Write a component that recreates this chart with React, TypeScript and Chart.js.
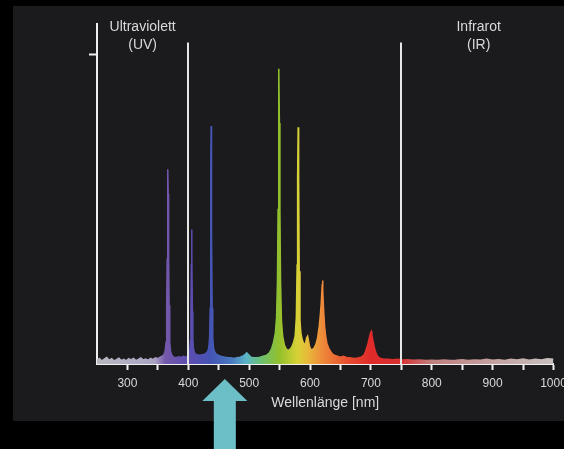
import React, { useEffect, useRef } from "react";
import { Chart, registerables } from "chart.js";

Chart.register(...registerables);

// ---------- data ----------
const wavelengths = [
  250, 254, 258, 262, 266, 270, 274, 278, 282, 286, 290, 294, 298, 302, 306, 310, 314, 318, 322, 326,
  330, 334, 338, 342, 346, 350, 354, 357, 360, 362, 363.5, 364.5, 365.3, 366, 366.5, 367, 367.7, 368.5, 369.5, 371,
  373, 376, 380, 384, 388, 392, 396, 399, 401, 402.5, 403.5, 404.3, 405, 405.5, 406, 406.7, 407.5, 408.5, 410, 412,
  415, 419, 423, 427, 431, 433.5, 435, 436, 436.7, 437.1, 437.5, 437.9, 438.4, 439.2, 440.2, 441.5, 443.5, 446, 450, 455,
  460, 465, 470, 475, 480, 485, 489, 493, 496, 499, 503, 508, 513, 518, 523, 528, 533, 537, 540, 543,
  545, 546.5, 547.5, 548.3, 549, 549.7, 550.5, 551.5, 553, 555, 558, 561, 564, 567, 570, 573, 575.5, 577.5, 578.8, 579.6,
  580.5, 581.3, 582.2, 583.5, 585, 587, 589, 591, 593, 594.5, 596, 597.5, 599, 601, 604, 607, 610, 612.5, 615, 617,
  618.5, 619.7, 620.5, 621.3, 622.5, 624, 626, 628, 631, 634, 637, 641, 645, 650, 655, 660, 665, 670, 675, 680,
  685, 689, 692, 695, 697.5, 699.5, 700.5, 701.5, 703.5, 706, 709, 712, 716, 720, 728, 736, 744, 752, 760, 770,
  780, 790, 800, 810, 820, 830, 840, 850, 860, 870, 880, 890, 900, 910, 920, 930, 940, 950, 960, 970,
  980, 990, 1000,
];
const intensities = [
  0.012, 0.018, 0.010, 0.016, 0.021, 0.012, 0.017, 0.010, 0.014, 0.019, 0.011, 0.015, 0.010, 0.017, 0.013, 0.018, 0.011, 0.015, 0.020, 0.013,
  0.016, 0.012, 0.018, 0.014, 0.020, 0.017, 0.022, 0.025, 0.03, 0.042, 0.07, 0.19, 0.34, 0.55, 0.63, 0.55, 0.34, 0.19, 0.07, 0.04,
  0.028, 0.022, 0.020, 0.023, 0.021, 0.025, 0.022, 0.026, 0.032, 0.045, 0.075, 0.16, 0.32, 0.435, 0.34, 0.17, 0.08, 0.05, 0.037, 0.032,
  0.03, 0.028, 0.03, 0.032, 0.038, 0.05, 0.085, 0.18, 0.42, 0.64, 0.77, 0.64, 0.42, 0.18, 0.085, 0.05, 0.038, 0.032, 0.028, 0.024,
  0.022, 0.02, 0.02, 0.018, 0.02, 0.022, 0.025, 0.03, 0.036, 0.03, 0.022, 0.02, 0.02, 0.022, 0.025, 0.028, 0.035, 0.05, 0.07, 0.1,
  0.15, 0.27, 0.5, 0.78, 0.955, 0.78, 0.5, 0.27, 0.14, 0.09, 0.06, 0.048, 0.044, 0.047, 0.055, 0.07, 0.09, 0.15, 0.32, 0.6,
  0.766, 0.6, 0.3, 0.14, 0.1, 0.08, 0.068, 0.062, 0.07, 0.085, 0.09, 0.075, 0.058, 0.048, 0.047, 0.052, 0.065, 0.085, 0.12, 0.16,
  0.2, 0.245, 0.27, 0.235, 0.17, 0.12, 0.085, 0.065, 0.05, 0.04, 0.032, 0.028, 0.025, 0.022, 0.025, 0.021, 0.02, 0.019, 0.018, 0.02,
  0.023, 0.03, 0.045, 0.065, 0.085, 0.1, 0.105, 0.095, 0.075, 0.05, 0.032, 0.022, 0.018, 0.016, 0.015, 0.014, 0.015, 0.013, 0.014, 0.012,
  0.013, 0.011, 0.012, 0.011, 0.013, 0.011, 0.012, 0.014, 0.011, 0.013, 0.012, 0.015, 0.012, 0.014, 0.011, 0.015, 0.013, 0.016, 0.012, 0.015,
  0.013, 0.017, 0.015,
];
const X_MIN = 250;
const X_MAX = 1000;
const X_STEP = 50;
const X_LABEL_STEP = 100;
const Y_MAX = 1.1;
const Y_TICKS = [1];
const xTitle = "Wellenlänge [nm]";
const regionBounds = [400, 750];
const regionCenters = [325, 877];
const regionLabels = [
  ["Ultraviolett", "(UV)"],
  ["Infrarot", "(IR)"],
];
const boundTop = 1.04;
const labelRows = [1.09, 1.03];
const arrowAt = 460;

// ---------- style ----------
const FONT = '"Liberation Sans", Arial, sans-serif';
const PANEL = "#1b1a1d";
const AXIS = "#efefef";
const TEXT = "#d9d9d9";
const ARROW = "#6cbfc6";
const spectrumStops: [number, string][] = [
  [250, "#b8b8c0"],
  [345, "#aaa4c4"],
  [362, "#7458aa"],
  [405, "#5a4eb0"],
  [437, "#4454b4"],
  [470, "#4a78c0"],
  [495, "#5ab4c8"],
  [520, "#6cc070"],
  [549, "#92c02c"],
  [580, "#d8d236"],
  [597, "#e8b83a"],
  [620, "#ee8a3a"],
  [660, "#e85030"],
  [700, "#e02a2a"],
  [750, "#d83030"],
  [800, "#c08080"],
  [1000, "#c8c0c0"],
];

function spectrumGradient(ctx: any) {
  const chart = ctx.chart;
  if (!chart.chartArea) return "#888";
  const xs = chart.scales.x;
  const p0 = xs.getPixelForValue(X_MIN);
  const p1 = xs.getPixelForValue(X_MAX);
  const g = chart.ctx.createLinearGradient(p0, 0, p1, 0);
  spectrumStops.forEach(([wl, c]) => {
    const off = (xs.getPixelForValue(wl) - p0) / (p1 - p0);
    g.addColorStop(Math.min(1, Math.max(0, off)), c);
  });
  return g;
}

const decor = {
  id: "decor",
  beforeDraw(chart: any) {
    const { ctx, width, height } = chart;
    ctx.save();
    ctx.fillStyle = "#000";
    ctx.fillRect(0, 0, width, height);
    ctx.fillStyle = PANEL;
    ctx.fillRect(13, 6, width - 13, 415);
    ctx.restore();
  },
  afterDraw(chart: any) {
    const { ctx } = chart;
    const x = chart.scales.x;
    const y = chart.scales.y;
    ctx.save();
    // region boundaries
    ctx.strokeStyle = "#e6e6e6";
    ctx.lineWidth = 2;
    regionBounds.forEach((b) => {
      const px = Math.round(x.getPixelForValue(b));
      ctx.beginPath();
      ctx.moveTo(px, y.getPixelForValue(boundTop));
      ctx.lineTo(px, y.getPixelForValue(0));
      ctx.stroke();
    });
    // region labels
    ctx.fillStyle = TEXT;
    ctx.font = `14px ${FONT}`;
    ctx.textAlign = "center";
    ctx.textBaseline = "middle";
    regionCenters.forEach((c, i) => {
      const px = x.getPixelForValue(c);
      regionLabels[i].forEach((t, r) => ctx.fillText(t, px, y.getPixelForValue(labelRows[r])));
    });
    // arrow
    const ax = x.getPixelForValue(arrowAt);
    const tip = 379;
    const base = 401;
    const headHalf = 22.5;
    const shaftHalf = 11;
    ctx.fillStyle = ARROW;
    ctx.beginPath();
    ctx.moveTo(ax, tip);
    ctx.lineTo(ax + headHalf, base);
    ctx.lineTo(ax + shaftHalf, base);
    ctx.lineTo(ax + shaftHalf, chart.height);
    ctx.lineTo(ax - shaftHalf, chart.height);
    ctx.lineTo(ax - shaftHalf, base);
    ctx.lineTo(ax - headHalf, base);
    ctx.closePath();
    ctx.fill();
    ctx.restore();
  },
};

export default function App() {
  const ref = useRef<HTMLCanvasElement>(null);
  useEffect(() => {
    const canvas = ref.current;
    if (!canvas) return;
    Chart.defaults.font.family = FONT;
    const chart = new Chart(canvas, {
      type: "line",
      data: {
        datasets: [
          {
            data: wavelengths.map((w, i) => ({ x: w, y: intensities[i] })),
            fill: "origin",
            borderWidth: 1.5,
            borderColor: spectrumGradient as any,
            backgroundColor: spectrumGradient as any,
            pointRadius: 0,
            tension: 0,
          },
        ],
      },
      options: {
        responsive: false,
        devicePixelRatio: 1,
        animation: false,
        layout: { padding: { top: 24, right: 10.5, left: 0, bottom: 0 } },
        plugins: { legend: { display: false }, tooltip: { enabled: false } },
        scales: {
          x: {
            type: "linear",
            min: X_MIN,
            max: X_MAX,
            z: 1,
            afterFit: (s: any) => {
              s.height = 85;
              s.paddingLeft = 0;
              s.paddingRight = 0;
            },
            ticks: {
              stepSize: X_STEP,
              autoSkip: false,
              maxRotation: 0,
              padding: 6,
              color: TEXT,
              font: { size: 12 },
              callback: (v: any) => (Number(v) % X_LABEL_STEP === 0 ? String(v) : ""),
            },
            grid: {
              drawOnChartArea: false,
              drawTicks: true,
              tickLength: 6,
              tickWidth: 2,
              tickColor: (c: any) => (c.tick && c.tick.value === X_MIN ? "rgba(0,0,0,0)" : AXIS),
            },
            border: { display: true, color: AXIS, width: 2 },
            title: {
              display: true,
              text: xTitle,
              color: TEXT,
              font: { size: 14 },
              padding: { top: 0, bottom: 37.6 },
            },
          },
          y: {
            type: "linear",
            min: 0,
            max: Y_MAX,
            z: 1,
            afterFit: (s: any) => {
              s.width = 97;
              s.paddingTop = 0;
              s.paddingBottom = 0;
            },
            afterBuildTicks: (s: any) => {
              s.ticks = Y_TICKS.map((v) => ({ value: v }));
            },
            ticks: { display: false },
            grid: {
              drawOnChartArea: false,
              drawTicks: true,
              tickLength: 8,
              tickWidth: 2,
              tickColor: AXIS,
            },
            border: { display: true, color: AXIS, width: 2 },
          },
        },
      },
      plugins: [decor],
    });
    return () => chart.destroy();
  }, []);
  return (
    <div style={{ position: "fixed", left: 0, top: 0, width: 564, height: 449, background: "#000" }}>
      <canvas ref={ref} width={564} height={449} style={{ display: "block", width: 564, height: 449 }} />
    </div>
  );
}
